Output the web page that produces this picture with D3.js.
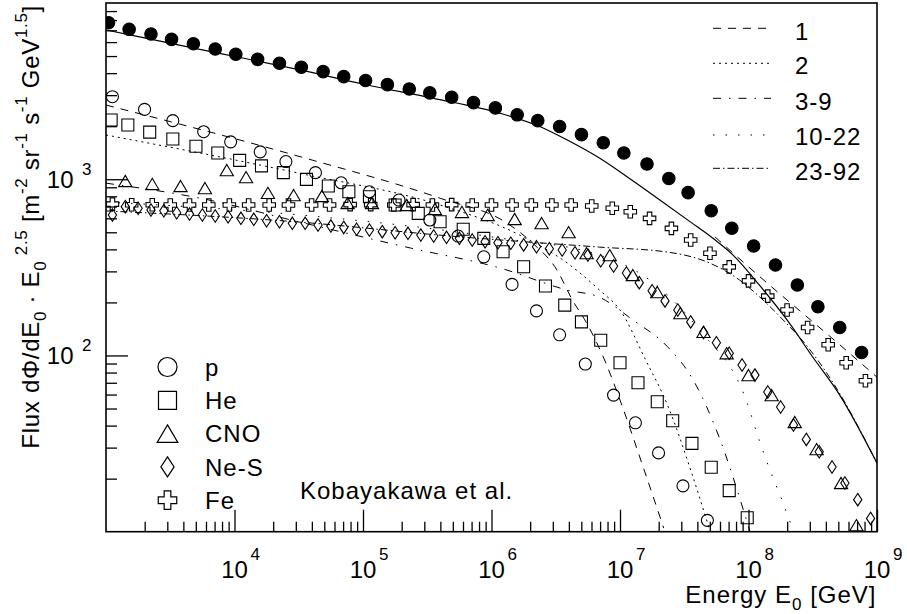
<!DOCTYPE html>
<html>
<head>
<meta charset="utf-8">
<script src="https://cdn.jsdelivr.net/npm/d3@7"></script>
<style>
  html, body { margin: 0; padding: 0; background: #fff; }
  svg { display: block; font-family: "Liberation Sans", Arial, Helvetica, sans-serif; }
</style>
</head>
<body>
<svg id="chart" width="907" height="614"></svg>
<script>
// ---- measured spectra: log10(E0/GeV) and flux * E0^2.5 ----
const allLogE = [3.02,3.18,3.35,3.51,3.68,3.85,4.01,4.18,4.35,4.52,4.69,4.85,5.02,5.19,5.36,5.52,5.69,5.86,6.03,6.20,6.36,6.53,6.70,6.87,7.03,7.21,7.38,7.53,7.71,7.87,8.04,8.21,8.38,8.54,8.71,8.88];
const allFlux = [7730,7090,6670,6220,5870,5480,5120,4790,4550,4320,4080,3820,3630,3440,3250,3090,2920,2720,2540,2320,2150,1990,1790,1610,1410,1220,1010,839,663,527,418,326,251,189,144,104];

const pLogE = [3.05,3.30,3.52,3.76,3.97,4.20,4.40,4.63,4.83,5.05,5.28,5.52,5.74,5.94,6.16,6.35,6.53,6.73,6.95,7.12,7.30,7.49,7.68];
const pFlux = [2940,2490,2150,1860,1630,1430,1260,1090,955,849,762,587,476,363,253,179,131,89.4,59.6,41.5,28.0,18.2,11.6];

const heLogE = [3.04,3.17,3.34,3.52,3.70,3.87,4.04,4.21,4.38,4.56,4.73,4.89,5.05,5.25,5.43,5.60,5.78,5.94,6.09,6.25,6.42,6.57,6.70,6.85,7.00,7.14,7.29,7.41,7.56,7.71,7.85,7.99];
const heFlux = [2170,2030,1850,1690,1540,1410,1280,1190,1090,998,915,849,796,714,640,574,520,462,388,319,248,193,155,122,90.9,70.0,54.6,42.6,31.7,23.2,17.1,12.0];

const cnoLogE = [3.15,3.36,3.58,3.77,3.94,4.09,4.26,4.46,4.68,4.88,5.07,5.34,5.56,5.77,5.97,6.18,6.39,6.60,6.74,6.92,7.10,7.29,7.47,7.65,7.83,8.00,8.18,8.36,8.53,8.72,8.84];
const cnoFlux = [977,940,915,891,1127,1028,836,813,803,733,733,714,678,652,627,595,564,501,381,371,286,229,174,136,103,77.4,59.6,41.9,29.4,18.9,10.9];

const nesLogE = [3.05,3.15,3.25,3.35,3.45,3.55,3.65,3.75,3.85,3.95,4.05,4.15,4.25,4.35,4.45,4.55,4.65,4.75,4.85,4.95,5.05,5.15,5.25,5.35,5.45,5.55,5.65,5.75,5.85,5.95,6.05,6.15,6.25,6.35,6.45,6.55,6.65,6.75,6.85,6.95,7.05,7.15,7.25,7.35,7.45,7.55,7.65,7.75,7.85,7.95,8.05,8.15,8.25,8.35,8.45,8.55,8.65,8.75,8.85,8.95];
const nesFlux = [627,699,684,669,663,645,634,627,618,612,600,592,581,574,562,562,550,542,533,520,515,504,497,493,482,476,468,462,452,442,436,433,424,414,403,397,383,371,345,322,294,259,233,204,181,155,135,118,103,88.3,77.4,62.0,51.0,40.3,33.4,28.4,23.3,18.9,15.2,11.9];

const feLogE = [3.05,3.20,3.36,3.50,3.65,3.80,3.96,4.11,4.27,4.42,4.60,4.74,4.90,5.06,5.24,5.39,5.54,5.69,5.85,6.00,6.16,6.31,6.47,6.62,6.78,6.94,7.08,7.23,7.40,7.55,7.70,7.85,8.00,8.15,8.30,8.46,8.62,8.76,8.91];
const feFlux = [722,716,716,714,714,714,714,714,714,714,714,714,718,718,714,718,714,718,714,714,714,714,714,714,705,684,654,600,526,452,380,318,265,217,181,144,115,90.9,71.8];

// ---- model curves (Kobayakawa et al.) ----
const modelAllLogE = [3.00,3.73,4.51,5.03,5.55,6.07,6.38,6.59,6.84,7.08,7.31,7.55,7.72,7.88,8.09,8.30,8.50,8.71,9.00];
const modelAllFlux = [7030,5460,4170,3427,2878,2365,1986,1668,1318,1002,762,571,464,371,248,159,98.0,59.6,24.5];

const modelAltLogE = [7.74,7.88,8.09,8.40,8.71,9.00];
const modelAltFlux = [470,381,279,179,115,75.3];

const model1LogE = [3.00,4.51,5.60,6.12,6.32,6.51,6.63,6.74,6.88,7.02,7.18,7.34];
const model1Flux = [2636,1343,780,564,434,305,206,153,94.2,50.9,23.3,10.5];

const model2LogE = [3.00,4.51,5.60,6.22,6.61,6.84,7.00,7.20,7.37,7.55,7.70];
const model2Flux = [1783,1079,714,482,326,235,181,94.2,52.2,22.4,10.1];

const model39LogE = [3.00,3.73,4.51,5.37,6.07,6.59,6.84,7.10,7.37,7.57,7.78,7.96,8.01];
const model39Flux = [950,781,571,407,313,235,214,159,112,72.5,33.1,13.3,10.1];

const model1022LogE = [3.00,4.51,6.07,6.84,7.23,7.62,7.99,8.07,8.17,8.27,8.34];
const model1022Flux = [743,627,463,371,268,139,53.7,35.3,22.1,14.5,10.5];

const model2392LogE = [3.00,4.51,5.68,6.84,7.37,7.70,7.93,8.09,8.27,8.46,8.66,9.00];
const model2392Flux = [661,571,476,412,386,334,268,214,159,112,69.7,24.5];

// ---- axis and legend text ----
const xMajorExp = [4,5,6,7,8,9];
const yMajorExp = [2,3];
const componentNames = ["p","He","CNO","Ne-S","Fe"];
const modelNames = ["1","2","3-9","10-22","23-92"];

// ---- layout ----
const svg = d3.select("#chart");
const X0 = 106, X1 = 877, Y0 = 531.7, Y1 = 3;
const x = d3.scaleLog().domain([1e3, 1e9]).range([X0, X1]);
const y = d3.scaleLog().domain([10, 1e4]).range([Y0, Y1]);

const zip = (le, f) => le.map((v, i) => [Math.pow(10, v), f[i]]);

svg.append("defs").append("clipPath").attr("id", "plotclip")
  .append("rect").attr("x", X0).attr("y", Y1).attr("width", X1 - X0).attr("height", Y0 - Y1);

// ---- axes (ticks pointing inward) ----
const xMinor = [], yMinor = [];
for (let e = 3; e < 9; e++) for (let m = 2; m <= 9; m++) xMinor.push(m * Math.pow(10, e));
for (let e = 1; e < 4; e++) for (let m = 2; m <= 9; m++) yMinor.push(m * Math.pow(10, e));

function styleAxis(g) {
  g.select(".domain").remove();
  g.selectAll(".tick line").attr("stroke", "#000").attr("stroke-width", 1.3);
  g.selectAll(".tick text").remove();
}
svg.append("g").attr("transform", `translate(0,${Y0})`)
  .call(d3.axisBottom(x).tickValues(xMinor).tickSize(-10)).call(styleAxis);
svg.append("g").attr("transform", `translate(0,${Y0})`)
  .call(d3.axisBottom(x).tickValues(xMajorExp.map(e => Math.pow(10, e))).tickSize(-22)).call(styleAxis);
svg.append("g").attr("transform", `translate(${X0},0)`)
  .call(d3.axisLeft(y).tickValues(yMinor).tickSize(-11)).call(styleAxis);
svg.append("g").attr("transform", `translate(${X0},0)`)
  .call(d3.axisLeft(y).tickValues(yMajorExp.map(e => Math.pow(10, e))).tickSize(-22)).call(styleAxis);

svg.append("rect").attr("x", X0).attr("y", Y1).attr("width", X1 - X0).attr("height", Y0 - Y1)
  .attr("fill", "none").attr("stroke", "#000").attr("stroke-width", 1.6);

// tick labels: 10 with raised exponent
const xl = svg.append("g").attr("font-size", 24).attr("fill", "#000");
xMajorExp.forEach(e => {
  const px = x(Math.pow(10, e));
  xl.append("text").attr("x", px).attr("y", 577.5).attr("text-anchor", "middle").text("10");
  xl.append("text").attr("x", px + 16).attr("y", 560).attr("font-size", 17).text(e);
});
const yl = svg.append("g").attr("font-size", 24).attr("fill", "#000");
yMajorExp.forEach(e => {
  const py = y(Math.pow(10, e));
  yl.append("text").attr("x", 73.5).attr("y", py + 9).attr("text-anchor", "end").text("10");
  yl.append("text").attr("x", 82).attr("y", py - 4).attr("font-size", 17).text(e);
});

// axis titles
const xt = svg.append("text").attr("x", 876.5).attr("y", 603).attr("text-anchor", "end")
  .attr("font-size", 24).attr("letter-spacing", 1);
xt.append("tspan").text("Energy E");
xt.append("tspan").attr("dy", 7).attr("font-size", 17).text("0");
xt.append("tspan").attr("dy", -7).text(" [GeV]");

const yt = svg.append("text").attr("transform", "translate(38.5,5) rotate(-90)")
  .attr("text-anchor", "end").attr("font-size", 24).attr("letter-spacing", 0.7);
yt.append("tspan").text("Flux d\u03A6/dE");
yt.append("tspan").attr("dy", 7).attr("font-size", 17).text("0");
yt.append("tspan").attr("dy", -7).text(" \u00B7 E");
yt.append("tspan").attr("dy", 7).attr("font-size", 17).text("0");
yt.append("tspan").attr("dy", -19).attr("font-size", 17).text(" 2.5");
yt.append("tspan").attr("dy", 12).text(" [m");
yt.append("tspan").attr("dy", -12).attr("font-size", 17).text("-2");
yt.append("tspan").attr("dy", 12).text(" sr");
yt.append("tspan").attr("dy", -12).attr("font-size", 17).text("-1");
yt.append("tspan").attr("dy", 12).text(" s");
yt.append("tspan").attr("dy", -12).attr("font-size", 17).text("-1");
yt.append("tspan").attr("dy", 12).text(" GeV");
yt.append("tspan").attr("dy", -12).attr("font-size", 17).text("1.5");
yt.append("tspan").attr("dy", 12).text("]");

// ---- model curves ----
const lineGen = d3.line().x(d => x(d[0])).y(d => y(d[1])).curve(d3.curveMonotoneX);
const curves = svg.append("g").attr("clip-path", "url(#plotclip)").attr("fill", "none")
  .attr("stroke", "#000");
const dash = {
  solid: null,
  d1: "8,7",
  d2: "2,4",
  d39: "8,8,1.5,8",
  d1022: "1.5,11",
  d2392: "7,3,1.5,3"
};
const curveDefs = [
  [modelAllLogE, modelAllFlux, dash.solid, 1.2],
  [modelAltLogE, modelAltFlux, dash.d1, 1],
  [model1LogE, model1Flux, dash.d1, 1],
  [model2LogE, model2Flux, dash.d2, 1],
  [model39LogE, model39Flux, dash.d39, 1],
  [model1022LogE, model1022Flux, dash.d1022, 1],
  [model2392LogE, model2392Flux, dash.d2392, 1]
];
curveDefs.forEach(([le, f, da, w]) => {
  curves.append("path").attr("d", lineGen(zip(le, f)))
    .attr("stroke-width", w).attr("stroke-dasharray", da);
});

// ---- marker shapes ----
const shapes = {
  circle: s => d3.symbol(d3.symbolCircle, Math.PI * (s / 2) * (s / 2))(),
  square: s => `M${-s/2},${-s/2}H${s/2}V${s/2}H${-s/2}Z`,
  triangle: s => `M0,${-s*0.45}L${s*0.53},${s*0.45}L${-s*0.53},${s*0.45}Z`,
  diamond: s => `M0,${-s/2}L${s*0.33},0L0,${s/2}L${-s*0.33},0Z`,
  cross: s => {
    const h = s / 2, a = s * 0.18;
    return `M${-a},${-h}H${a}V${-a}H${h}V${a}H${a}V${h}H${-a}V${a}H${-h}V${-a}H${-a}Z`;
  }
};

const marks = svg.append("g").attr("clip-path", "url(#plotclip)");
function drawSeries(le, f, shape, size, filled) {
  marks.append("g").selectAll("path").data(zip(le, f)).join("path")
    .attr("transform", d => `translate(${x(d[0])},${y(d[1])})`)
    .attr("d", shapes[shape](size))
    .attr("fill", filled ? "#000" : "none")
    .attr("stroke", "#000").attr("stroke-width", 1.1);
}
drawSeries(feLogE, feFlux, "cross", 12.5, false);
drawSeries(nesLogE, nesFlux, "diamond", 12.5, false);
drawSeries(cnoLogE, cnoFlux, "triangle", 12.5, false);
drawSeries(heLogE, heFlux, "square", 12, false);
drawSeries(pLogE, pFlux, "circle", 12, false);
drawSeries(allLogE, allFlux, "circle", 12.5, true);

// ---- legend: components ----
const compShapes = ["circle", "square", "triangle", "diamond", "cross"];
const compSizes = [19, 18, 19.5, 20, 18.5];
const lg = svg.append("g");
componentNames.forEach((name, i) => {
  const cy = 367 + i * 33.3;
  lg.append("path").attr("transform", `translate(167.5,${cy})`)
    .attr("d", shapes[compShapes[i]](compSizes[i]))
    .attr("fill", "none").attr("stroke", "#000").attr("stroke-width", 1.2);
  lg.append("text").attr("x", 205).attr("y", cy + 8.8).attr("font-size", 24)
    .attr("letter-spacing", 1).text(name);
});
svg.append("text").attr("x", 300).attr("y", 499).attr("font-size", 24)
  .attr("letter-spacing", 1).text("Kobayakawa et al.");

// ---- legend: model groups ----
const modelDash = [dash.d1, dash.d2, dash.d39, dash.d1022, dash.d2392];
const lineRows = [28.3, 63.3, 98.3, 135, 168.3];
const textRows = [39.5, 74, 109.5, 145, 180];
const ml = svg.append("g");
modelNames.forEach((name, i) => {
  ml.append("line").attr("x1", 713).attr("x2", 771).attr("y1", lineRows[i]).attr("y2", lineRows[i])
    .attr("stroke", "#000").attr("stroke-width", 1).attr("stroke-dasharray", modelDash[i]);
  ml.append("text").attr("x", 795).attr("y", textRows[i]).attr("font-size", 24)
    .attr("letter-spacing", 1).text(name);
});
</script>
</body>
</html>
